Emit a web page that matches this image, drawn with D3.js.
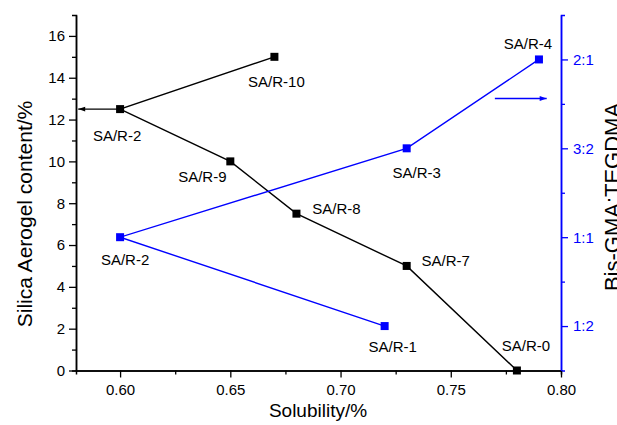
<!doctype html>
<meta charset="utf-8">
<title>Solubility vs silica aerogel content</title>
<script src="https://d3js.org/d3.v7.min.js"></script>
<style>
    body { margin: 0; background: #fff; }
    text { font-family: Arial, "Liberation Sans", sans-serif; }
</style>
<body>
<div id="chart"></div>
<script>

    // silica aerogel series (left axis)
    var blackNames = ["SA/R-10", "SA/R-2", "SA/R-9", "SA/R-8", "SA/R-7", "SA/R-0"]
            , blackX = [0.67, 0.60, 0.65, 0.68, 0.73, 0.78]
            , blackY = [15, 12.5, 10, 7.5, 5, 0];

    // resin ratio series (right axis)
    var blueNames = ["SA/R-1", "SA/R-2", "SA/R-3", "SA/R-4"]
            , blueX = [0.72, 0.60, 0.73, 0.79]
            , blueY = [1, 2, 3, 4];

    var xTicks = [0.60, 0.65, 0.70, 0.75, 0.80]
            , yTicks = [0, 2, 4, 6, 8, 10, 12, 14, 16]
            , ratioTicks = [1, 2, 3, 4]
            , ratioLabels = ["1:2", "1:1", "3:2", "2:1"];

    // label offsets (px) from each point, centre x / baseline y
    var blackOff = [[2, 30], [-3, 32], [-28, 21], [40, 0], [39, 0], [9, -20]]
            , blueOff = [[8, 26], [5, 28], [10, 30], [-11, -10]];

    var W = 617, H = 425
            , mLeft = 76, mRight = 561, mTop = 15, mBottom = 370.5
            , blue = "#0000ff";

    var x = d3.scaleLinear().domain([0.58, 0.80]).range([mLeft, mRight]);
    var y = d3.scaleLinear().domain([0, 17]).range([mBottom, mTop]);
    var yr = d3.scaleLinear().domain([0.5, 4.5]).range([mBottom, mTop]);

    var svg = d3.select('#chart').append('svg')
            .attr('width', W)
            .attr('height', H);

    var defs = svg.append('defs');
    function marker(id, col) {
        defs.append('marker')
                .attr('id', id)
                .attr('viewBox', '0 0 10 10')
                .attr('refX', 10).attr('refY', 5)
                .attr('markerWidth', 9).attr('markerHeight', 7)
                .attr('markerUnits', 'userSpaceOnUse')
                .attr('orient', 'auto')
                .append('path')
                .attr('d', 'M0,1.5L10,5L0,8.5Z')
                .attr('fill', col);
    }
    marker('arrBlack', '#000');
    marker('arrBlue', blue);

    function styleAxis(g, col) {
        g.attr('font-size', 15).attr('font-family', 'Arial, "Liberation Sans", sans-serif');
        g.selectAll('path.domain').attr('stroke', col).attr('stroke-width', 1.5);
        g.selectAll('line').attr('stroke', col).attr('stroke-width', 1.3);
        g.selectAll('text').attr('fill', col);
    }

    // minor ticks first
    var xMinor = svg.append('g').attr('transform', 'translate(0,' + mBottom + ')')
            .call(d3.axisBottom(x).tickValues([0.625, 0.675, 0.725, 0.775]).tickSize(4).tickFormat(''));
    styleAxis(xMinor, '#000');
    var yMinor = svg.append('g').attr('transform', 'translate(' + mLeft + ',0)')
            .call(d3.axisLeft(y).tickValues([1, 3, 5, 7, 9, 11, 13, 15]).tickSize(4).tickFormat(''));
    styleAxis(yMinor, '#000');
    var rMinor = svg.append('g').attr('transform', 'translate(' + mRight + ',0)')
            .call(d3.axisRight(yr).tickValues([1.5, 2.5, 3.5]).tickSize(4).tickFormat(''));
    styleAxis(rMinor, blue);

    var xAxis = svg.append('g').attr('transform', 'translate(0,' + mBottom + ')')
            .call(d3.axisBottom(x).tickValues(xTicks).tickSize(7).tickPadding(7).tickFormat(d3.format('.2f')).tickSizeOuter(0));
    styleAxis(xAxis, '#000');

    var yAxis = svg.append('g').attr('transform', 'translate(' + mLeft + ',0)')
            .call(d3.axisLeft(y).tickValues(yTicks).tickSize(7).tickPadding(4).tickSizeOuter(0));
    styleAxis(yAxis, '#000');

    var rAxis = svg.append('g').attr('transform', 'translate(' + mRight + ',0)')
            .call(d3.axisRight(yr).tickValues(ratioTicks).tickSize(7).tickPadding(5).tickSizeOuter(0)
                    .tickFormat(function(d, i) { return ratioLabels[i]; }));
    styleAxis(rAxis, blue);

    // axis titles
    svg.append('text')
            .attr('x', 318).attr('y', 417)
            .attr('text-anchor', 'middle')
            .style('font-size', '19px')
            .text('Solubility/%');

    svg.append('text')
            .attr('transform', 'translate(32,214) rotate(-90)')
            .attr('text-anchor', 'middle')
            .style('font-size', '21px')
            .text('Silica Aerogel content/%');

    svg.append('text')
            .attr('transform', 'translate(620,197) rotate(-90)')
            .attr('text-anchor', 'middle')
            .style('font-size', '22px')
            .text('Bis-GMA:TEGDMA');

    var blackData = blackX.map(function(d, i) { return { x: d, y: blackY[i], name: blackNames[i], off: blackOff[i] }; });
    var blueData = blueX.map(function(d, i) { return { x: d, y: blueY[i], name: blueNames[i], off: blueOff[i] }; });

    var lineBlack = d3.line().x(function(d) { return x(d.x) }).y(function(d) { return y(d.y) });
    var lineBlue = d3.line().x(function(d) { return x(d.x) }).y(function(d) { return yr(d.y) });

    svg.append('path').datum(blackData)
            .attr('d', lineBlack)
            .attr('fill', 'none').attr('stroke', '#000').attr('stroke-width', 1.4);

    svg.append('path').datum(blueData)
            .attr('d', lineBlue)
            .attr('fill', 'none').attr('stroke', blue).attr('stroke-width', 1.4);

    // arrows pointing at each axis
    svg.append('line')
            .attr('x1', x(0.60)).attr('y1', y(12.5))
            .attr('x2', x(0.581)).attr('y2', y(12.5))
            .attr('stroke', '#000').attr('stroke-width', 1.4)
            .attr('marker-end', 'url(#arrBlack)');

    svg.append('line')
            .attr('x1', x(0.77)).attr('y1', yr(3.56))
            .attr('x2', x(0.7935)).attr('y2', yr(3.56))
            .attr('stroke', blue).attr('stroke-width', 1.4)
            .attr('marker-end', 'url(#arrBlue)');

    var sz = 8;
    svg.selectAll('rect.black').data(blackData).enter().append('rect')
            .classed('black', true)
            .attr('x', function(d) { return x(d.x) - sz / 2 })
            .attr('y', function(d) { return y(d.y) - sz / 2 })
            .attr('width', sz).attr('height', sz)
            .attr('fill', '#000');

    svg.selectAll('rect.blue').data(blueData).enter().append('rect')
            .classed('blue', true)
            .attr('x', function(d) { return x(d.x) - sz / 2 })
            .attr('y', function(d) { return yr(d.y) - sz / 2 })
            .attr('width', sz).attr('height', sz)
            .attr('fill', blue);

    svg.selectAll('text.lblBlack').data(blackData).enter().append('text')
            .classed('lblBlack', true)
            .attr('x', function(d) { return x(d.x) + d.off[0] })
            .attr('y', function(d) { return y(d.y) + d.off[1] })
            .attr('text-anchor', 'middle')
            .style('font-size', '15px')
            .text(function(d) { return d.name });

    svg.selectAll('text.lblBlue').data(blueData).enter().append('text')
            .classed('lblBlue', true)
            .attr('x', function(d) { return x(d.x) + d.off[0] })
            .attr('y', function(d) { return yr(d.y) + d.off[1] })
            .attr('text-anchor', 'middle')
            .style('font-size', '15px')
            .text(function(d) { return d.name });

</script>
</body>
</html>
